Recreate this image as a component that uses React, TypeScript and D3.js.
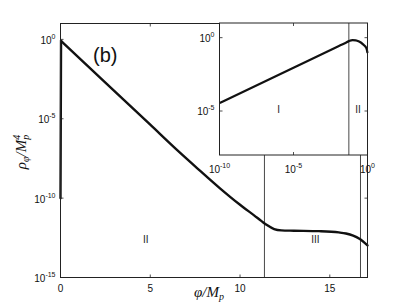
import React from "react";
import * as d3 from "d3";

// Main panel: energy density vs field value
const mainPhi = [0, 0.03, 2.5, 5.0, 6.5, 7.7, 8.9, 10.0, 10.8, 11.2, 11.5, 11.9, 12.3, 13.0, 14.4, 15.5, 15.9, 16.3, 16.65, 17.1];
const mainRho = [1e-10, 8.1e-1, 1.9e-3, 4.2e-6, 1.05e-7, 6.3e-9, 4.0e-10, 3.8e-11, 7.9e-12, 3.55e-12, 2.0e-12, 1.12e-12, 9.3e-13, 8.9e-13, 8.3e-13, 6.9e-13, 5.9e-13, 4.35e-13, 2.75e-13, 1.05e-13];
const mainXTicks = [0, 5, 10, 15];
const mainYTickExp = [0, -5, -10, -15];
const mainBoundaries = [11.36, 16.71];
const mainRegionLabels = [
  { text: "II", phi: 4.75, rho: 1.4e-13 },
  { text: "III", phi: 14.2, rho: 1.4e-13 },
];

// Inset: log-log zoom on the early phase
const insetPhi = [1e-10, 1e-5, 1e-2, 3.2e-2, 5.5e-2, 1e-1, 1.6e-1, 2.7e-1, 5e-1, 8.5e-1, 1.0];
const insetRho = [3.5e-5, 8.9e-3, 2.5e-1, 4.4e-1, 5.8e-1, 6.8e-1, 6.6e-1, 5.4e-1, 3.5e-1, 1.9e-1, 9.1e-2];
const insetXTickExp = [-10, -5, 0];
const insetYTickExp = [0, -5];
const insetBoundaries = [5.5e-2];
const insetRegionLabels = [
  { text: "I", phi: 1e-6, rho: 6.8e-6 },
  { text: "II", phi: 2.3e-1, rho: 6.8e-6 },
];

const SANS = "'Liberation Sans', Arial, Helvetica, sans-serif";
const SERIF = "'Liberation Serif', 'Times New Roman', serif";

function Pow({ x, y, exp, anchor }: { x: number; y: number; exp: number; anchor: string }) {
  return (
    <text x={x} y={y} textAnchor={anchor as any} fontFamily={SANS} fontSize={10} fill="#111">
      <tspan>10</tspan>
      <tspan dy={-5} fontSize={7}>{String(exp)}</tspan>
    </text>
  );
}

export default function App() {
  const W = 407, H = 305;
  const mL = 60.5, mR = 367.5, mT = 23.5, mB = 277.5;
  const x = d3.scaleLinear().domain([0, 17.1]).range([mL, mR]);
  const y = d3.scaleLog().domain([1e-15, 1e1]).range([mB, mT]);

  const iL = 219.5, iR = 367.5, iT = 23, iB = 155;
  const ix = d3.scaleLog().domain([1e-10, 1]).range([iL, iR]);
  const iy = d3.scaleLog().domain([1e-8, 1e1]).range([iB, iT]);

  const idx = mainRho.map((_, i) => i);
  const riseLine = d3
    .line<number>()
    .x((i) => x(mainPhi[i]))
    .y((i) => y(mainRho[i]));
  const mainLine = d3
    .line<number>()
    .x((i) => x(mainPhi[i]))
    .y((i) => y(mainRho[i]))
    .curve(d3.curveMonotoneX);
  const insetLine = d3
    .line<number>()
    .x((_, i) => ix(insetPhi[i]))
    .y((d) => iy(d))
    .curve(d3.curveMonotoneX);

  const tl = 3;

  return (
    <svg width={W} height={H} style={{ position: "absolute", left: 0, top: 0, background: "#fff" }}>
      <rect x={0} y={0} width={W} height={H} fill="#fff" />
      {mainBoundaries.map((b, i) => (
        <line key={i} x1={x(b)} x2={x(b)} y1={mB} y2={mT} stroke="#333" strokeWidth={0.9} />
      ))}
      <path d={riseLine(idx.slice(0, 2)) || ""} fill="none" stroke="#111" strokeWidth={2.4} strokeLinecap="round" />
      <path d={mainLine(idx.slice(1)) || ""} fill="none" stroke="#111" strokeWidth={2.4} strokeLinejoin="round" strokeLinecap="round" />
      <rect x={mL} y={mT} width={mR - mL} height={mB - mT} fill="none" stroke="#222" strokeWidth={1} />
      {mainXTicks.map((t) => (
        <g key={"mx" + t}>
          <line x1={x(t)} x2={x(t)} y1={mB} y2={mB - tl} stroke="#222" strokeWidth={0.8} />
          <line x1={x(t)} x2={x(t)} y1={mT} y2={mT + tl} stroke="#222" strokeWidth={0.8} />
          <text x={x(t)} y={292} textAnchor="middle" fontFamily={SANS} fontSize={10} fill="#111">
            {t}
          </text>
        </g>
      ))}
      {mainYTickExp.map((e) => {
        const yy = y(Math.pow(10, e));
        return (
          <g key={"my" + e}>
            <line x1={mL} x2={mL + tl} y1={yy} y2={yy} stroke="#222" strokeWidth={0.8} />
            <line x1={mR} x2={mR - tl} y1={yy} y2={yy} stroke="#222" strokeWidth={0.8} />
            <Pow x={mL - 5} y={yy + 4.5} exp={e} anchor="end" />
          </g>
        );
      })}
      {mainRegionLabels.map((r) => (
        <text key={r.text} x={x(r.phi)} y={y(r.rho)} textAnchor="middle" fontFamily={SANS} fontSize={10} fill="#222">
          {r.text}
        </text>
      ))}
      <text x={93} y={62} fontFamily={SANS} fontSize={20} fill="#111">(b)</text>
      <text x={209} y={297} textAnchor="middle" fontFamily={SERIF} fontStyle="italic" fontSize={15} fill="#111">
        φ/M<tspan dy={3} fontSize={10}>p</tspan>
      </text>
      <text transform="translate(26,152) rotate(-90)" textAnchor="middle" fontFamily={SERIF} fontStyle="italic" fontSize={15} fill="#111">
        ρ<tspan dy={3} fontSize={10}>φ</tspan><tspan dy={-3}>/M</tspan><tspan dy={3} fontSize={10}>p</tspan><tspan dy={-9} dx={-5} fontSize={10}>4</tspan>
      </text>

      {/* inset */}
      <rect x={iL} y={iT} width={iR - iL} height={iB - iT} fill="#fff" />
      {insetBoundaries.map((b, i) => (
        <line key={i} x1={ix(b)} x2={ix(b)} y1={iB} y2={iT} stroke="#333" strokeWidth={0.9} />
      ))}
      <path d={insetLine(insetRho) || ""} fill="none" stroke="#111" strokeWidth={2.2} strokeLinejoin="round" />
      <rect x={iL} y={iT} width={iR - iL} height={iB - iT} fill="none" stroke="#222" strokeWidth={1} />
      {insetXTickExp.map((e) => {
        const xx = ix(Math.pow(10, e));
        return (
          <g key={"ix" + e}>
            <line x1={xx} x2={xx} y1={iB} y2={iB - tl} stroke="#222" strokeWidth={0.8} />
            <line x1={xx} x2={xx} y1={iT} y2={iT + tl} stroke="#222" strokeWidth={0.8} />
            <Pow x={xx} y={173} exp={e} anchor="middle" />
          </g>
        );
      })}
      {insetYTickExp.map((e) => {
        const yy = iy(Math.pow(10, e));
        return (
          <g key={"iy" + e}>
            <line x1={iL} x2={iL + tl} y1={yy} y2={yy} stroke="#222" strokeWidth={0.8} />
            <line x1={iR} x2={iR - tl} y1={yy} y2={yy} stroke="#222" strokeWidth={0.8} />
            <Pow x={iL - 5} y={yy + 4} exp={e} anchor="end" />
          </g>
        );
      })}
      {insetRegionLabels.map((r) => (
        <text key={r.text} x={ix(r.phi)} y={iy(r.rho)} textAnchor="middle" fontFamily={SANS} fontSize={10} fill="#222">
          {r.text}
        </text>
      ))}
    </svg>
  );
}
